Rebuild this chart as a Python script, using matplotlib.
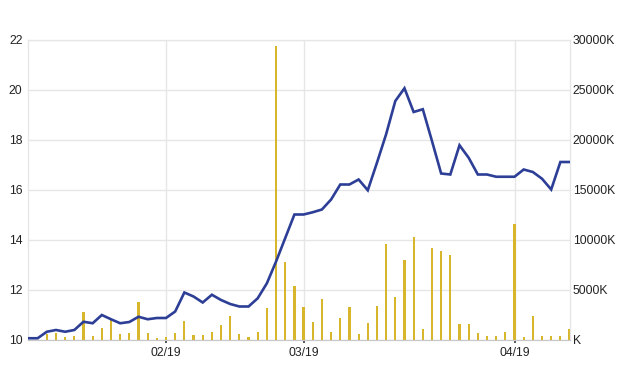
import numpy as np
import matplotlib
matplotlib.use("Agg")
from matplotlib import pyplot as plt

# closing price (left axis)
price = [10.07, 10.07, 10.33, 10.40, 10.33, 10.40, 10.73, 10.67, 11.00, 10.83,
         10.67, 10.72, 10.93, 10.83, 10.88, 10.88, 11.14, 11.90, 11.74, 11.50,
         11.81, 11.60, 11.44, 11.34, 11.34, 11.67, 12.27, 13.14, 14.08, 15.02,
         15.02, 15.11, 15.22, 15.62, 16.22, 16.22, 16.42, 15.99, 17.09, 18.23,
         19.56, 20.07, 19.12, 19.23, 17.96, 16.66, 16.62, 17.79, 17.29, 16.62,
         16.62, 16.53, 16.53, 16.53, 16.82, 16.72, 16.45, 16.02, 17.12, 17.12]

# volume in thousands (right axis)
volume = [0, 0, 600, 670, 330, 430, 2840, 400, 1240, 2070,
          570, 670, 3780, 670, 170, 330, 670, 1940, 470, 540,
          840, 1500, 2440, 570, 270, 840, 3240, 29420, 7850, 5420,
          3280, 1770, 4080, 840, 2170, 3280, 570, 1670, 3410, 9600,
          4350, 8020, 10260, 1100, 9200, 8930, 8530, 1640, 1640, 670,
          400, 400, 840, 11600, 270, 2440, 400, 400, 400, 1070]

month_idx = [15, 30, 53]
month_labels = ["02/19", "03/19", "04/19"]

plt.rcParams['font.family'] = ['Liberation Sans', 'DejaVu Sans']
plt.rcParams['font.size'] = 8.7

x = np.arange(len(price))

fig = plt.figure(figsize=(6.31, 3.84), dpi=100)
ax2 = fig.add_axes([28/631, 1 - 340/384, (570 - 28)/631, 300/384])
ax = ax2.twinx()

# bars on the right axis
ax2.bar(x, volume, width=0.24, color='#d8b62c', zorder=2)
ax2.set_ylim(0, 30000)
ax2.set_xlim(-0.05, len(price) - 0.95)
ax2.yaxis.tick_right()
ax2.yaxis.set_label_position('right')
ax2.set_yticks(np.arange(0, 30001, 5000))
ax2.set_yticklabels(["K"] + ["%dK" % v for v in range(5000, 30001, 5000)])
ax2.tick_params(axis='y', length=0, pad=2, colors='#222222')
ax2.set_xticks(month_idx)
ax2.set_xticklabels(month_labels)
ax2.tick_params(axis='x', length=2, width=1.2, color='#333333', pad=3, colors='#222222')
ax2.grid(True, color='#e6e6e6', linewidth=1.0, zorder=0)
ax2.set_axisbelow(True)

# price line on the left axis
ax.plot(x, price, color='#2d3e96', linewidth=1.9, solid_joinstyle='miter', zorder=3)
ax.set_ylim(10, 22)
ax.set_yticks(np.arange(10, 23, 2))
ax.yaxis.tick_left()
ax.tick_params(axis='y', length=0, pad=4, colors='#222222')

for a in (ax, ax2):
    for s in a.spines.values():
        s.set_color('#e6e6e6')
    a.spines['bottom'].set_color('#c8c8c8')

plt.savefig("out.png", dpi=100)
